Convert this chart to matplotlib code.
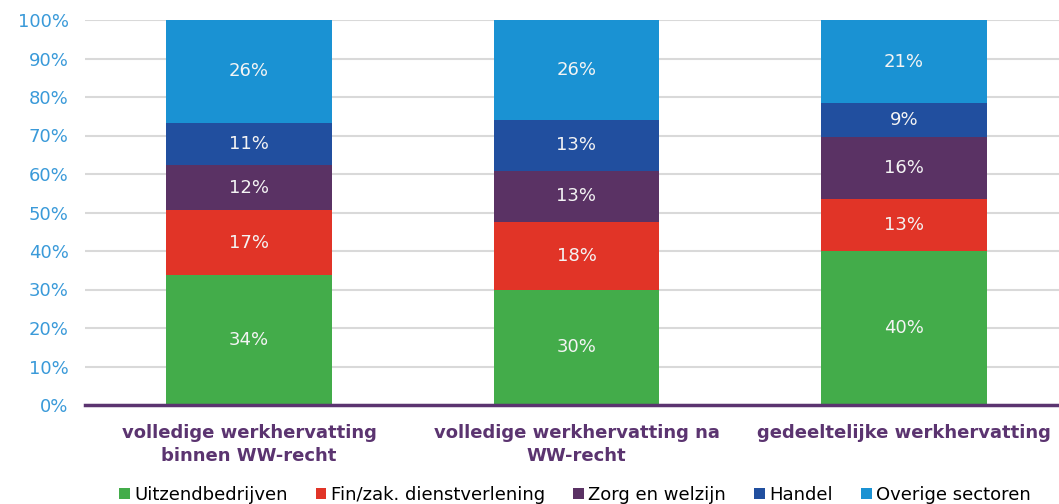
import matplotlib
matplotlib.use("Agg")
import matplotlib.pyplot as plt
from matplotlib.patches import Patch
import numpy as np

categories = ["volledige werkhervatting\nbinnen WW-recht",
              "volledige werkhervatting na\nWW-recht",
              "gedeeltelijke werkhervatting"]
series_names = ["Uitzendbedrijven", "Fin/zak. dienstverlening", "Zorg en welzijn",
                "Handel", "Overige sectoren"]
uitzend = [33.7, 30.0, 40.0]
finzak = [16.9, 17.6, 13.4]
zorg = [11.7, 13.3, 16.3]
handel = [11.0, 13.1, 8.7]
overige = [26.7, 26.0, 21.6]
labels_uitzend = ["34%", "30%", "40%"]
labels_finzak = ["17%", "18%", "13%"]
labels_zorg = ["12%", "13%", "16%"]
labels_handel = ["11%", "13%", "9%"]
labels_overige = ["26%", "26%", "21%"]
yticks = [0, 10, 20, 30, 40, 50, 60, 70, 80, 90, 100]

colors = ["#43ac4a", "#e13427", "#5a3264", "#214f9f", "#1a92d3"]
purple = "#5b3470"
tickblue = "#3a9ad9"

series = [uitzend, finzak, zorg, handel, overige]
labels = [labels_uitzend, labels_finzak, labels_zorg, labels_handel, labels_overige]

fig = plt.figure(figsize=(10.59, 5.04), dpi=100)
ax = fig.add_axes([85.25 / 1059, 99 / 504, 982.5 / 1059, 385 / 504])

x = np.arange(len(categories))
bottom = np.zeros(len(categories))
for vals, col, labs in zip(series, colors, labels):
    vals = np.array(vals)
    ax.bar(x, vals, 0.505, bottom=bottom, color=col, zorder=3)
    for xi, b, v, t in zip(x, bottom, vals, labs):
        ax.text(xi, b + v / 2, t, ha="center", va="center", color="#f4f4f4",
                fontsize=13, zorder=4)
    bottom += vals

ax.set_xlim(-0.5, 2.5)
ax.set_ylim(0, 100)
ax.set_yticks(yticks)
ax.set_yticklabels([f"{t}%" for t in yticks], color=tickblue, fontsize=13)
ax.tick_params(axis="y", length=0, pad=12)
ax.yaxis.grid(True, color="#d9d9d9", linewidth=1.5, zorder=0)
ax.set_xticks(x)
ax.set_xticklabels(categories, color=purple, fontsize=13, fontweight="bold",
                   linespacing=1.35)
ax.tick_params(axis="x", length=0, pad=14)
for s in ["top", "right", "left"]:
    ax.spines[s].set_visible(False)
ax.spines["bottom"].set_color(purple)
ax.spines["bottom"].set_linewidth(2.5)
ax.spines["bottom"].set_zorder(5)

handles = [Patch(facecolor=c, edgecolor="none") for c in colors]
fig.legend(handles, series_names, loc="center", bbox_to_anchor=(575 / 1059, 1 - 495 / 504),
           ncol=5, frameon=False, fontsize=13, handlelength=0.6, handleheight=0.6,
           handletextpad=0.25, columnspacing=1.55, borderaxespad=0)

fig.savefig("out.png", dpi=100)
